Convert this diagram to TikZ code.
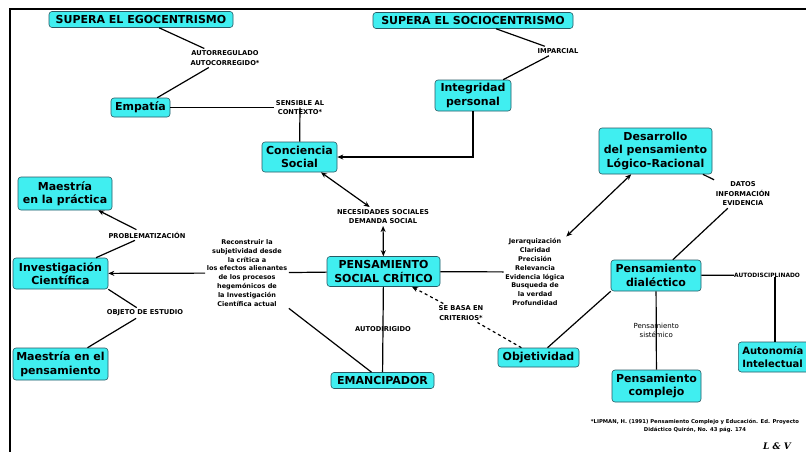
\documentclass[tikz,border=0pt]{standalone}
\usepackage{fontspec}
\setmainfont{DejaVu Sans}
\newfontfamily\sigfont{DejaVu Serif}
\usetikzlibrary{arrows.meta}
\definecolor{boxfill}{RGB}{64,238,240}
\definecolor{boxline}{RGB}{40,90,100}
\begin{document}
\begin{tikzpicture}[x=1pt,y=-1pt,
  box/.style={draw=boxline, fill=boxfill, rounded corners=3pt, line width=0.6pt, align=center, inner sep=0pt, font=\bfseries\fontsize{11}{13.5}\selectfont},
  lab/.style={align=center, inner sep=2pt, font=\bfseries\fontsize{6.7}{9.5}\selectfont},
  txt/.style={align=center, inner sep=1.5pt, font=\bfseries\fontsize{6.5}{8.9}\selectfont},
  con/.style={line width=1.2pt},
  arr/.style={con, -{Stealth[length=6pt,width=5pt]}},
  darr/.style={con, {Stealth[length=6pt,width=5pt]}-{Stealth[length=6pt,width=5pt]}},
]
\useasboundingbox (0,0) rectangle (806,451);
\fill[white] (0,0) rectangle (806,451);
\draw[line width=1.6pt] (10,470) -- (10,9) -- (830,9);

% boxes
\node[box, minimum width=184pt, minimum height=16pt] (ego) at (141,19.5) {SUPERA EL EGOCENTRISMO};
\node[box, minimum width=200pt, minimum height=16pt] (socio) at (473,20.5) {SUPERA EL SOCIOCENTRISMO};
\node[box, minimum width=59pt, minimum height=19pt] (emp) at (140.5,107.5) {Empatía};
\node[box, minimum width=75pt, minimum height=30pt] (conc) at (299.5,157) {Conciencia\\Social};
\node[box, minimum width=76pt, minimum height=31pt] (integ) at (473,95.5) {Integridad\\personal};
\node[box, minimum width=94pt, minimum height=33pt] (maep) at (65,193.5) {Maestría\\en la práctica};
\node[box, minimum width=95pt, minimum height=31pt] (inv) at (60.5,273.5) {Investigación\\Científica};
\node[box, minimum width=95pt, minimum height=32pt] (maepen) at (60.5,364) {Maestría en el\\pensamiento};
\node[box, minimum width=113pt, minimum height=30pt] (pen) at (383.5,271.5) {PENSAMIENTO\\SOCIAL CRÍTICO};
\node[box, minimum width=103pt, minimum height=16pt] (eman) at (382.5,380.5) {EMANCIPADOR};
\node[box, minimum width=81pt, minimum height=19pt] (obj) at (538.5,357.5) {Objetividad};
\node[box, minimum width=113pt, minimum height=46pt] (des) at (655.5,151) {Desarrollo\\del pensamiento\\Lógico-Racional};
\node[box, minimum width=90pt, minimum height=31pt] (dial) at (656,275.5) {Pensamiento\\dialéctico};
\node[box, minimum width=89pt, minimum height=32pt] (comp) at (656.5,386) {Pensamiento\\complejo};
\node[box, anchor=west, align=left, text width=82pt, inner xsep=4pt, minimum height=30pt, font=\bfseries\fontsize{10}{13}\selectfont] (auto) at (738,357) {Autonomía\\Intelectual};

% labels
\node[lab] (lauto) at (225,58) {AUTORREGULADO\\AUTOCORREGIDO*};
\node[lab] (lsens) at (300,107.5) {SENSIBLE AL\\CONTEXTO*};
\node[lab] (limp) at (558,51) {IMPARCIAL};
\node[lab] (lnec) at (383,216.5) {NECESIDADES SOCIALES\\DEMANDA SOCIAL};
\node[lab] (lprob) at (147,235) {PROBLEMATIZACIÓN};
\node[lab] (lobj) at (145,313) {OBJETO DE ESTUDIO};
\node[lab] (lse) at (461,313) {SE BASA EN\\CRITERIOS*};
\node[lab] (ldatos) at (743,194) {DATOS\\INFORMACIÓN\\EVIDENCIA};
\node[lab, anchor=west, inner sep=0pt, font=\bfseries\fontsize{5.9}{8}\selectfont] (lautodis) at (734,275) {AUTODISCIPLINADO};
\node[txt] (lrec) at (247,273) {Reconstruir la\\subjetividad desde\\la crítica a\\los efectos alienantes\\de los procesos\\hegemónicos de\\la Investigación\\Científica actual};
\node[txt] (ljer) at (535,272) {Jerarquización\\Claridad\\Precisión\\Relevancia\\Evidencia lógica\\Busqueda de\\la verdad\\Profundidad};

% connectors
\draw[con] (ego) -- (lauto);
\draw[con] (lauto) -- (emp);
\draw[con] (emp) -- (lsens);
\draw[con] (lsens.center) -- (conc);
\draw[con] (socio) -- (limp);
\draw[con] (limp) -- (integ);
\draw[arr] (integ.south) |- (conc.east);
\draw[darr] (conc) -- (lnec);
\draw[darr] (lnec) -- (pen);
\draw[con] (pen) -- (lrec);
\draw[arr] (lrec) -- (inv);
\draw[con] (lrec.south east) -- ([xshift=-11pt]eman.north);
\draw[con] (pen) -- (eman) node[lab, midway, inner sep=0pt] (lautodir) {AUTODIRIGIDO};
\draw[con, dashed] (obj) -- (lse);
\draw[arr, dashed] (lse) -- (pen);
\draw[con] ([xshift=9pt]obj.north) -- (dial.south west);
\draw[con] (pen) -- (ljer);
\draw[darr] (ljer.north east) -- (des);
\draw[con] (des) -- (ldatos);
\draw[con] (ldatos) -- (dial);
\draw[con] (dial) -- (lautodis);
\draw[con] ([xshift=41pt]lautodis.south west) -- ([xshift=41pt]lautodis.south west |- auto.north);
\draw[con] (dial) -- (comp) node[midway, align=center, inner sep=0pt, font=\fontsize{7}{9}\selectfont] (lsis) {Pensamiento\\sistémico};
\draw[arr] (lprob) -- (maep);
\draw[con] (lprob) -- (inv);
\draw[con] (inv.south east) -- (lobj);
\draw[con] (lobj) -- (maepen);

% footnote and signature
\node[align=center, inner sep=0pt, font=\bfseries\fontsize{5.3}{8}\selectfont] (foot) at (695,426) {*LIPMAN, H. (1991) Pensamiento Complejo y Educación. Ed. Proyecto\\Didáctico Quirón, No. 43 pág. 174};
\node[inner sep=0pt, font=\sigfont\bfseries\itshape\fontsize{9}{10}\selectfont] (sig) at (777,446) {L \& V};
\end{tikzpicture}
\end{document}
